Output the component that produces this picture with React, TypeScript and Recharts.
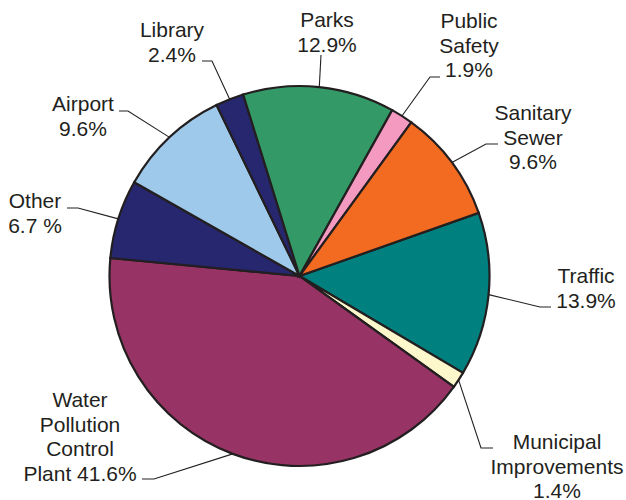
import React from 'react';
import { PieChart, Pie, Cell } from 'recharts';

const categories = ['Traffic', 'Municipal Improvements', 'Water Pollution Control Plant', 'Other', 'Airport', 'Library', 'Parks', 'Public Safety', 'Sanitary Sewer'];
const shares = [13.9, 1.4, 41.6, 6.7, 9.6, 2.4, 12.9, 1.9, 9.6];
const labelTexts = [
  ['Traffic', '13.9%'],
  ['Municipal', 'Improvements', '1.4%'],
  ['Water', 'Pollution', 'Control', 'Plant 41.6%'],
  ['Other', '6.7 %'],
  ['Airport', '9.6%'],
  ['Library', '2.4%'],
  ['Parks', '12.9%'],
  ['Public', 'Safety', '1.9%'],
  ['Sanitary', 'Sewer', '9.6%'],
];
const colors = ['#00807f', '#fdf8cc', '#983465', '#27276f', '#9fc9ea', '#27276f', '#339966', '#f49ac1', '#f26b21'];

// label layout: elbow point, line end point, text center x, first baseline y
const labelLayout = [
  { ex: 540, ey: 307, lx: 551, ly: 307, tx: 586, ty: 283 },
  { ex: 481, ey: 448, lx: 493, ly: 448, tx: 557, ty: 449 },
  { ex: 154, ey: 479, lx: 142, ly: 479, tx: 80, ty: 407 },
  { ex: 78, ey: 208, lx: 67, ly: 208, tx: 35, ty: 208 },
  { ex: 128, ey: 111, lx: 119, ly: 111, tx: 83, ty: 111 },
  { ex: 212, ey: 61, lx: 202, ly: 61, tx: 172, ty: 37 },
  { ex: 321, ey: 55, lx: 321, ly: 55, tx: 327, ty: 27 },
  { ex: 430, ey: 77, lx: 440, ly: 77, tx: 469, ty: 28 },
  { ex: 486, ey: 144, lx: 498, ly: 144, tx: 533, ty: 120 },
];

const data = categories.map((name, i) => ({ name, value: shares[i] }));

const RAD = Math.PI / 180;
const LINE_H = 24.5;

const renderLabel = (props: any) => {
  const { cx, cy, midAngle, outerRadius, index } = props;
  const sx = cx + outerRadius * Math.cos(-midAngle * RAD);
  const sy = cy + outerRadius * Math.sin(-midAngle * RAD);
  const L = labelLayout[index];
  const lines = labelTexts[index];
  return (
    <g key={`lbl-${index}`}>
      <polyline
        points={`${sx},${sy} ${L.ex},${L.ey} ${L.lx},${L.ly}`}
        fill="none"
        stroke="#231f20"
        strokeWidth={1.1}
      />
      <text
        x={L.tx}
        y={L.ty}
        textAnchor="middle"
        fill="#231f20"
        fontFamily="'Liberation Sans', Arial, sans-serif"
        fontSize={21}
      >
        {lines.map((t, k) => (
          <tspan key={k} x={L.tx} y={L.ty + k * LINE_H}>{t}</tspan>
        ))}
      </text>
    </g>
  );
};

export default function App() {
  return (
    <div style={{ width: 626, height: 500, background: '#fff' }}>
      <style>{`body{margin:0;background:#fff}`}</style>
      <PieChart width={626} height={500} margin={{ top: 0, right: 0, bottom: 0, left: 0 }}>
        <Pie
          data={data}
          dataKey="value"
          nameKey="name"
          cx={299.5}
          cy={276}
          outerRadius={190}
          startAngle={19.4}
          endAngle={-340.6}
          stroke="#231f20"
          strokeWidth={2.2}
          label={renderLabel}
          labelLine={false}
          isAnimationActive={false}
        >
          {data.map((d, i) => (
            <Cell key={d.name} fill={colors[i]} stroke="#231f20" strokeWidth={2.2} />
          ))}
        </Pie>
      </PieChart>
    </div>
  );
}
